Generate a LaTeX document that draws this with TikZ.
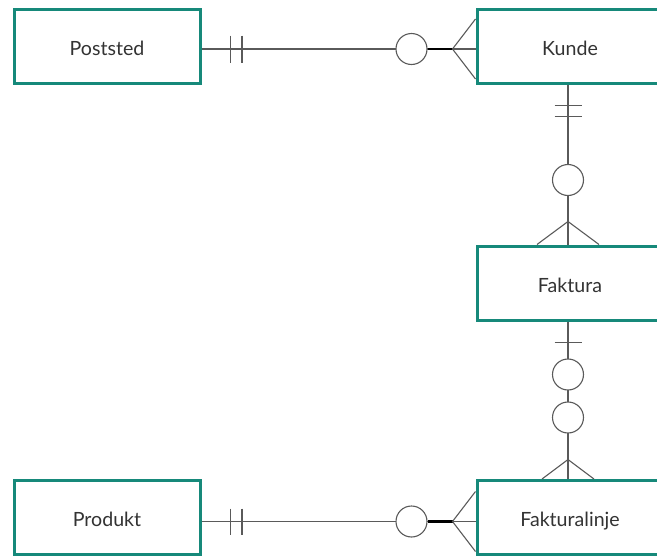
\documentclass[tikz,border=0pt]{standalone}
\usepackage{fontspec}
\setmainfont{Lato}
\usetikzlibrary{calc}
\definecolor{entityedge}{HTML}{16897A}
\definecolor{relline}{HTML}{5A5A5A}
\definecolor{labeltext}{HTML}{333333}
\tikzset{
  entity/.style={draw=entityedge, line width=3pt, fill=white, rectangle,
    minimum width=186pt, minimum height=74pt, inner sep=0pt,
    font=\fontsize{19.6}{23}\selectfont, text=labeltext},
  rel/.style={draw=relline, line width=1.1pt},
  bar/.style={draw=relline, line width=1.1pt},
  ring/.style={circle, draw=relline, line width=1.1pt, fill=white,
    minimum size=31pt, inner sep=0pt},
  heavy/.style={draw=black, line width=2.6pt},
}
% label with its baseline a fixed distance below the box centre
\newcommand{\entname}[1]{\raisebox{-9pt}[0pt][0pt]{#1}}
\begin{document}
\begin{tikzpicture}[x=1pt,y=-1pt]
\useasboundingbox (0,0) rectangle (657,557);
\clip (0,0) rectangle (657,557);

% entities
\node[entity] (poststed)     at (107,46)    {\entname{Poststed}};
\node[entity] (kunde)        at (570,46)    {\entname{Kunde}};
\node[entity] (faktura)      at (570,283)   {\entname{Faktura}};
\node[entity] (produkt)      at (107,517)   {\entname{Produkt}};
\node[entity] (fakturalinje) at (570,517.5) {\entname{Fakturalinje}};

% Poststed (one and only one) -- Kunde (zero or many)
\coordinate (pa) at ([yshift=-3pt]poststed.east);
\coordinate (pb) at (kunde.west |- pa);
\draw[rel] (pa) -- (pb);
\draw[bar] ($(pa)+(29,-13.5)$) -- ++(0,27);
\draw[bar] ($(pa)+(40.5,-13.5)$) -- ++(0,27);
\node[ring] (pring) at ($(pb)+(-64,0)$) {};
\coordinate (pfoot) at ($(pb)+(-23,0)$);
\draw[heavy] (pring.east) -- (pfoot);
\draw[rel] ($(pb)+(0,-30)$) -- (pfoot) -- ($(pb)+(0,30)$);

% Kunde (one and only one) -- Faktura (zero or many)
\coordinate (ka) at ([xshift=-2pt]kunde.south);
\coordinate (kb) at (ka |- faktura.north);
\draw[rel] (ka) -- (kb);
\draw[bar] ($(ka)+(-13.5,21)$) -- ++(27,0);
\draw[bar] ($(ka)+(-13.5,32)$) -- ++(27,0);
\node[ring] (kring) at ($(kb)+(0,-64.5)$) {};
\coordinate (kfoot) at ($(kb)+(0,-23)$);
\draw[rel] ($(kb)+(-31,0)$) -- (kfoot) -- ($(kb)+(31,0)$);

% Faktura (zero or one) -- Fakturalinje (zero or many)
\coordinate (fa) at ([xshift=-2pt]faktura.south);
\coordinate (fb) at (fa |- fakturalinje.north);
\draw[rel] (fa) -- (fb);
\draw[bar] ($(fa)+(-13.5,21)$) -- ++(27,0);
\node[ring] (fring1) at ($(fa)+(0,53)$) {};
\node[ring] (fring2) at ($(fb)+(0,-61.5)$) {};
\coordinate (ffoot) at ($(fb)+(0,-19.5)$);
\draw[rel] ($(fb)+(-26,0)$) -- (ffoot) -- ($(fb)+(26,0)$);

% Produkt (one and only one) -- Fakturalinje (zero or many)
\coordinate (qa) at ([yshift=-4.5pt]produkt.east);
\coordinate (qb) at (fakturalinje.west |- qa);
\draw[rel] (qa) -- (qb);
\draw[bar] ($(qa)+(29,-13)$) -- ++(0,26);
\draw[bar] ($(qa)+(40.5,-13)$) -- ++(0,26);
\node[ring] (qring) at ($(qb)+(-64,0)$) {};
\coordinate (qfoot) at ($(qb)+(-23,0)$);
\draw[heavy] (qring.east) -- (qfoot);
\draw[rel] ($(qb)+(0,-30)$) -- (qfoot) -- ($(qb)+(0,30)$);
\end{tikzpicture}
\end{document}
